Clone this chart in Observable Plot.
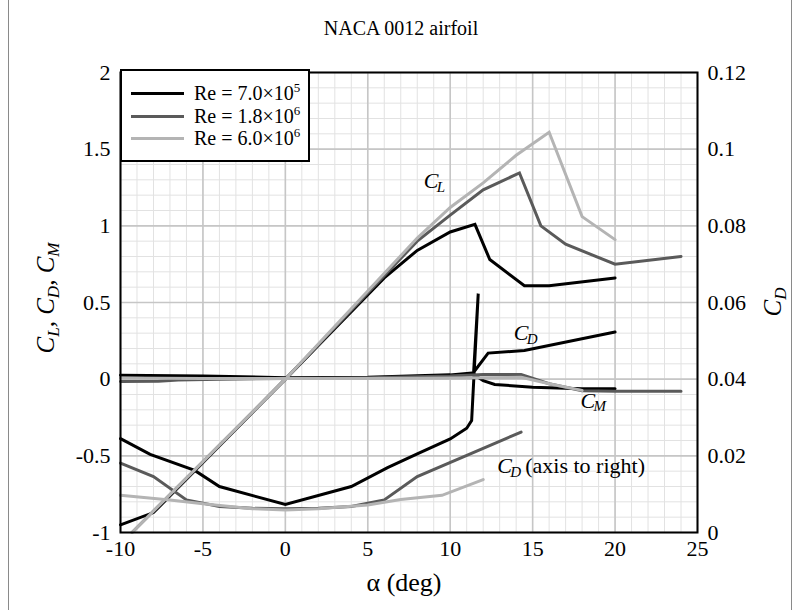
<!DOCTYPE html>
<html><head><meta charset="utf-8">
<script src="https://cdn.jsdelivr.net/npm/d3@7"></script>
<script src="https://cdn.jsdelivr.net/npm/@observablehq/plot@0.6"></script>
<style>
body{margin:0;background:#fff;font-family:"Liberation Serif","Times New Roman",serif;}
#wrap{position:relative;width:797px;height:610px;overflow:hidden;background:#fff;}
#wrap svg, #wrap svg text{font-family:"Liberation Serif","Times New Roman",serif !important;}
.ov{position:absolute;white-space:nowrap;color:#000;line-height:1;}
.cen{transform:translate(-50%,-50%);}
.rot{transform:translate(-50%,-50%) rotate(-90deg);}
#legend{position:absolute;left:120px;top:69px;width:186px;height:89px;border:2px solid #000;background:#fff;}
.lrow{position:absolute;left:9px;width:170px;height:20px;white-space:nowrap;}
.lline{position:absolute;left:0;top:9px;width:53px;height:0;border-top:3.5px solid #000;}
.ltxt{position:absolute;left:63px;top:0;font-size:20px;line-height:20px;white-space:nowrap;}
.ltxt sup{font-size:13px;vertical-align:0;position:relative;top:-8px;}
i sub{font-size:0.68em;vertical-align:0;position:relative;top:0.3em;}
</style></head><body><div id="wrap"></div><script>
// ---------- data ----------
const seriesLabels = ["7.0×10", "1.8×10", "6.0×10"];
const seriesExponents = ["5", "6", "6"];
const seriesColors = ["#000000", "#5a5a5a", "#b4b4b4"];

// Lift coefficient C_L (left axis)
const clAlpha1 = [-10, -8, 0, 6, 7, 8, 10, 11.5, 12.4, 14.5, 16, 20];
const clValue1 = [-0.95, -0.87, 0, 0.66, 0.75, 0.84, 0.96, 1.01, 0.78, 0.61, 0.61, 0.66];
const clAlpha2 = [-9.3, 0, 8, 10, 12, 14.2, 15.5, 17, 20, 24];
const clValue2 = [-1.0, 0, 0.9, 1.07, 1.235, 1.345, 1.0, 0.88, 0.75, 0.80];
const clAlpha3 = [-9.3, 0, 8, 10, 12, 14, 16, 18, 20];
const clValue3 = [-1.0, 0, 0.92, 1.12, 1.28, 1.46, 1.61, 1.06, 0.91];

// Drag coefficient C_D (right axis)
const cdAlpha1 = [-10, -8.2, -5.5, -4, 0, 4, 6.2, 8, 10, 11, 11.3, 11.7, 11.42, 12.3, 14.5, 20];
const cdValue1 = [0.0245, 0.0204, 0.0162, 0.012, 0.0073, 0.012, 0.0169, 0.0205, 0.0244, 0.0272, 0.0292, 0.0623, 0.0418, 0.0468, 0.0475, 0.0523];
const cdAlpha2 = [-10, -8, -6, -4, -2, 0, 2, 4, 6, 8, 14.3];
const cdValue2 = [0.0181, 0.0146, 0.0085, 0.0068, 0.0063, 0.0062, 0.0063, 0.0068, 0.0085, 0.0146, 0.0262];
const cdAlpha3 = [-10, -7, -5, -2, 0, 2, 5, 7, 9.5, 12];
const cdValue3 = [0.0097, 0.0085, 0.0075, 0.0062, 0.0059, 0.0062, 0.0072, 0.0086, 0.0097, 0.0138];

// Moment coefficient C_M (left axis)
const cmAlpha1 = [-10, -5, 0, 5, 10, 11.3, 12, 12.7, 15, 18, 20];
const cmValue1 = [0.025, 0.02, 0.01, 0.012, 0.028, 0.04, -0.01, -0.035, -0.052, -0.062, -0.063];
const cmAlpha2 = [-10, -7.7, -6.5, -4, 0, 5, 10, 12, 14.3, 16, 18, 20, 24];
const cmValue2 = [-0.015, -0.013, -0.005, 0, 0.005, 0.01, 0.02, 0.03, 0.03, -0.03, -0.076, -0.078, -0.078];
const cmAlpha3 = [-10, -5, 0, 5, 10, 14.3, 16, 18];
const cmValue3 = [0.008, 0.005, 0.005, 0.005, 0.008, 0.012, -0.03, -0.073];

// axes
const xTicks = [-10, -5, 0, 5, 10, 15, 20, 25];
const yTicks = [-1, -0.5, 0, 0.5, 1, 1.5, 2];
const cdTickLabels = ["0", "0.02", "0.04", "0.06", "0.08", "0.1", "0.12"];
const cdAxisMin = 0, cdAxisMax = 0.12;   // right axis spans same height as left [-1, 2]

// annotations
const annoAlpha = [8.4, 13.85, 17.9, 12.85];
const annoValue = [1.29, 0.30, -0.14, -0.565];
const annoSub = ["L", "D", "M", "D"];
const annoSuffix = ["", "", "", "(axis to right)"];

// ---------- build ----------
const yMin = -1, yMax = 2;
const cdToLeft = v => yMin + (v - cdAxisMin) / (cdAxisMax - cdAxisMin) * (yMax - yMin);

const sets = [
  [clAlpha1, clValue1, cdAlpha1, cdValue1, cmAlpha1, cmValue1],
  [clAlpha2, clValue2, cdAlpha2, cdValue2, cmAlpha2, cmValue2],
  [clAlpha3, clValue3, cdAlpha3, cdValue3, cmAlpha3, cmValue3]
];
const rows = [];
sets.forEach((s, i) => {
  s[0].forEach((a, j) => rows.push({s: i, k: "CL", a, v: s[1][j]}));
  s[2].forEach((a, j) => rows.push({s: i, k: "CD", a, v: cdToLeft(s[3][j])}));
  s[4].forEach((a, j) => rows.push({s: i, k: "CM", a, v: s[5][j]}));
});

const minorX = d3.range(-10, 25.01, 1);
const minorY = d3.range(-1, 2.001, 0.1);
const annos = annoAlpha.map((a, i) => ({a, v: annoValue[i], sub: annoSub[i], suf: annoSuffix[i]}));
const serif = "'Liberation Serif', 'Times New Roman', serif";

const lineMarks = [0, 1, 2].map(i =>
  Plot.line(rows.filter(r => r.s === i), {x: "a", y: "v", z: "k", stroke: seriesColors[i], strokeWidth: 3, strokeLinejoin: "miter", strokeMiterlimit: 3})
);

const chart = Plot.plot({
  width: 797, height: 610,
  marginLeft: 120, marginRight: 100, marginTop: 72, marginBottom: 78,
  style: {fontFamily: serif, fontSize: "22px", background: "transparent", color: "#000"},
  x: {domain: [-10, 25]},
  y: {domain: [yMin, yMax]},
  marks: [
    Plot.ruleX(minorX, {stroke: "#e2e2e2", strokeWidth: 1}),
    Plot.ruleY(minorY, {stroke: "#e2e2e2", strokeWidth: 1}),
    Plot.ruleX(xTicks, {stroke: "#c6c6c6", strokeWidth: 1.6}),
    Plot.ruleY(yTicks, {stroke: "#c6c6c6", strokeWidth: 1.6}),
    ...lineMarks,
    Plot.text(annos, {x: "a", y: "v", text: () => "C", fontFamily: serif, fontStyle: "italic", fontSize: 22, textAnchor: "start", lineAnchor: "middle"}),
    Plot.text(annos, {x: "a", y: "v", text: "sub", fontFamily: serif, fontStyle: "italic", fontSize: 15, textAnchor: "start", lineAnchor: "middle", dx: 13, dy: 6}),
    Plot.text(annos, {x: "a", y: "v", text: "suf", fontFamily: serif, fontSize: 22, textAnchor: "start", lineAnchor: "middle", dx: 28}),
    Plot.frame({stroke: "#000", strokeWidth: 2}),
    Plot.axisX({ticks: xTicks, tickSize: 0, tickPadding: 8, tickFormat: d => String(d), fontFamily: serif, fontSize: 22, label: null}),
    Plot.axisY({anchor: "left", ticks: yTicks, tickSize: 0, tickPadding: 10, tickFormat: d => String(d), fontFamily: serif, fontSize: 22, label: null}),
    Plot.axisY({anchor: "right", ticks: yTicks, tickSize: 0, tickPadding: 10, tickFormat: (d, i) => cdTickLabels[i], fontFamily: serif, fontSize: 22, label: null})
  ]
});
const wrap = document.getElementById("wrap");
chart.style.position = "absolute";
chart.style.left = "0px";
chart.style.top = "0px";
wrap.appendChild(chart);

function ov(html, x, y, cls, size, extra) {
  const d = document.createElement("div");
  d.className = "ov " + cls;
  d.style.left = x + "px";
  d.style.top = y + "px";
  d.style.fontSize = size + "px";
  if (extra) d.style.cssText += extra;
  d.innerHTML = html;
  wrap.appendChild(d);
}
// side borders of figure
ov("", 8, 0, "", 10, "width:0;height:620px;border-left:1.5px solid #8a8a8a;");
ov("", 791, 0, "", 10, "width:0;height:620px;border-left:1.5px solid #8a8a8a;");
ov("NACA 0012 airfoil", 401, 28, "cen", 20);
ov("α (deg)", 404, 583, "cen", 26);
ov("<i>C<sub>L</sub>, C<sub>D</sub>, C<sub>M</sub></i>", 45, 298, "rot", 25);
ov("<i>C<sub>D</sub></i>", 772, 302, "rot", 25);

// legend
const lg = document.createElement("div");
lg.id = "legend";
seriesLabels.forEach((t, i) => {
  const r = document.createElement("div");
  r.className = "lrow";
  r.style.top = (12 + i * 22.5) + "px";
  r.innerHTML = `<div class="lline" style="border-top-color:${seriesColors[i]}"></div><div class="ltxt">Re = ${t}<sup>${seriesExponents[i]}</sup></div>`;
  lg.appendChild(r);
});
wrap.appendChild(lg);
</script></body></html>
